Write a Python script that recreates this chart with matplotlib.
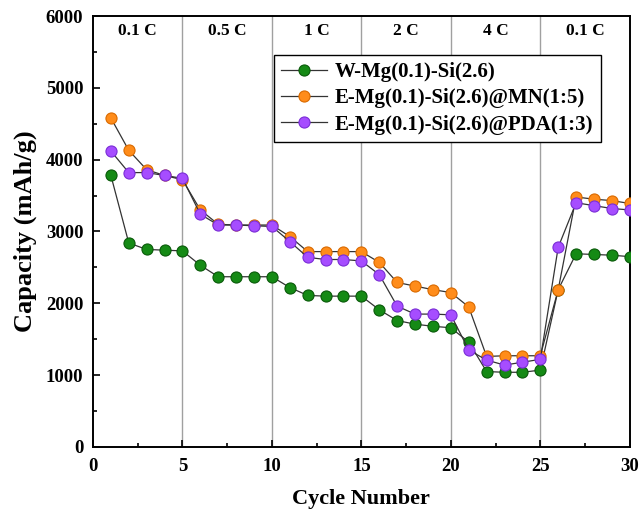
import matplotlib.pyplot as plt
from matplotlib.ticker import MultipleLocator

plt.rcParams['font.family'] = ['Liberation Serif', 'DejaVu Serif']
plt.rcParams['font.weight'] = 'bold'

cycles = list(range(1, 31))
w_mg_si = [3780, 2840, 2750, 2740, 2730, 2530, 2370, 2370, 2370, 2370,
           2220, 2110, 2100, 2100, 2100, 1910, 1760, 1710, 1680, 1660,
           1460, 1050, 1040, 1040, 1070, 2190, 2690, 2680, 2670, 2650]
e_mn = [4580, 4130, 3860, 3780, 3720, 3300, 3100, 3090, 3090, 3090,
        2930, 2720, 2720, 2720, 2720, 2570, 2290, 2240, 2190, 2150,
        1950, 1260, 1270, 1270, 1270, 2190, 3480, 3450, 3430, 3390]
e_pda = [4120, 3820, 3820, 3780, 3740, 3240, 3090, 3090, 3080, 3070,
         2860, 2640, 2610, 2610, 2590, 2400, 1960, 1850, 1850, 1840,
         1350, 1210, 1140, 1180, 1220, 2780, 3400, 3360, 3320, 3300]
rates = ['0.1 C', '0.5 C', '1 C', '2 C', '4 C', '0.1 C']
rate_edges = [0, 5, 10, 15, 20, 25, 30]

series = [
    ('W-Mg(0.1)-Si(2.6)', w_mg_si, '#158a15', '#0a5a0a'),
    ('E-Mg(0.1)-Si(2.6)@MN(1:5)', e_mn, '#ff8c1a', '#d96a00'),
    ('E-Mg(0.1)-Si(2.6)@PDA(1:3)', e_pda, '#a64dff', '#7a2ed6'),
]

fig = plt.figure(figsize=(6.4, 5.13), dpi=100)
ax = fig.add_axes([0.1453, 0.1287, 0.8387, 0.8401])

for x in rate_edges[1:-1]:
    ax.axvline(x, color='#a0a0a0', lw=1.0, zorder=1)
for i, r in enumerate(rates):
    ax.text((rate_edges[i] + rate_edges[i + 1]) / 2, 5790, r,
            ha='center', va='center', fontsize=12.5, fontweight='bold')

for name, ys, fc, ec in series:
    ax.plot(cycles, ys, color='#333333', lw=0.9, marker='o', markersize=8,
            markerfacecolor=fc, markeredgecolor=ec, markeredgewidth=0.8,
            label=name, zorder=3)

ax.set_xlim(0, 30)
ax.set_ylim(0, 6000)
ax.xaxis.set_major_locator(MultipleLocator(5))
ax.xaxis.set_minor_locator(MultipleLocator(2.5))
ax.yaxis.set_major_locator(MultipleLocator(1000))
ax.yaxis.set_minor_locator(MultipleLocator(500))
ax.tick_params(which='both', direction='in', top=False, right=False,
               labelsize=13.5, width=1.2)
ax.tick_params(which='major', length=5)
ax.tick_params(which='minor', length=3)
ax.tick_params(axis='x', pad=8)
ax.tick_params(axis='y', pad=7)
for s in ax.spines.values():
    s.set_linewidth(1.4)

ax.set_xlabel('Cycle Number', fontsize=16, fontweight='bold', labelpad=10)
ax.set_ylabel('Capacity (mAh/g)', fontsize=19, fontweight='bold', labelpad=6)

leg = ax.legend(loc='upper right', bbox_to_anchor=(0.946, 0.91), fontsize=15,
                frameon=True, fancybox=False, edgecolor='black',
                handlelength=2.2, borderaxespad=0, borderpad=0.35,
                labelspacing=0.3, handletextpad=0.4)
leg.get_frame().set_linewidth(1.0)
leg.get_frame().set_alpha(1)

fig.savefig('out.png', dpi=100)
